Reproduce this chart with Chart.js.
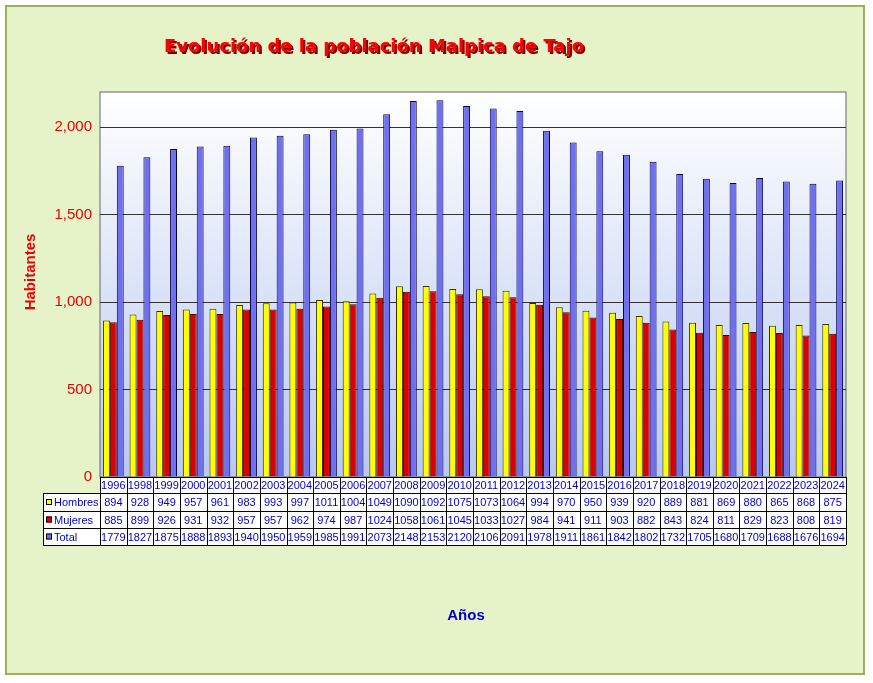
<!DOCTYPE html><html><head><meta charset="utf-8">
<script src="https://cdn.jsdelivr.net/npm/chart.js@4.4.0/dist/chart.umd.min.js"></script>
<style>html,body{margin:0;padding:0;background:#fff}#w{width:873px;height:683px;position:relative}</style></head><body><div id="w"><canvas id="c" width="873" height="683"></canvas></div>
<script>
const years=['1996','1998','1999','2000','2001','2002','2003','2004','2005','2006','2007','2008','2009','2010','2011','2012','2013','2014','2015','2016','2017','2018','2019','2020','2021','2022','2023','2024'];
const hombres=[894,928,949,957,961,983,993,997,1011,1004,1049,1090,1092,1075,1073,1064,994,970,950,939,920,889,881,869,880,865,868,875];
const mujeres=[885,899,926,931,932,957,957,962,974,987,1024,1058,1061,1045,1033,1027,984,941,911,903,882,843,824,811,829,823,808,819];
const total=[1779,1827,1875,1888,1893,1940,1950,1959,1985,1991,2073,2148,2153,2120,2106,2091,1978,1911,1861,1842,1802,1732,1705,1680,1709,1688,1676,1694];
const yTicks=[0,500,1000,1500,2000];
const seriesNames=['Hombres','Mujeres','Total'];
const colors=['#ffff00','#dd0000','#7070ee'];
const borders=['#333300','#440000','#000044'];
const deco={id:'deco',
beforeDraw(ch){const c=ch.ctx,a=ch.chartArea;c.save();
c.fillStyle='#fff';c.fillRect(0,0,873,683);
c.fillStyle='#e6f2c8';c.fillRect(6,6,858,668);
c.strokeStyle='#9ab060';c.lineWidth=2;c.strokeRect(6,6,858,668);
const g=c.createLinearGradient(0,a.top,0,a.bottom);g.addColorStop(0,'#ffffff');g.addColorStop(1,'#b8c8f0');
c.fillStyle=g;c.fillRect(a.left,a.top,a.right-a.left,a.bottom-a.top);
c.strokeStyle='#666';c.lineWidth=1;c.strokeRect(a.left,a.top,a.right-a.left,a.bottom-a.top);
c.restore();},
afterDraw(ch){const c=ch.ctx,a=ch.chartArea,x=ch.scales.x;c.save();
const w=(a.right-a.left)/years.length;
const rows=[a.bottom,a.bottom+16,a.bottom+34,a.bottom+51,a.bottom+68];
c.fillStyle='#fff';c.fillRect(a.left,rows[0],a.right-a.left,rows[4]-rows[0]);
c.fillRect(43,rows[1],a.left-43,rows[4]-rows[1]);
c.strokeStyle='#000';c.lineWidth=1;
for(let r=0;r<5;r++){c.beginPath();c.moveTo(r==0?a.left:43,rows[r]+.5);c.lineTo(a.right,rows[r]+.5);c.stroke();}
for(let i=0;i<=years.length;i++){const xx=Math.round(a.left+i*w)+.5;c.beginPath();c.moveTo(xx,rows[0]);c.lineTo(xx,rows[4]);c.stroke();}
c.beginPath();c.moveTo(43.5,rows[1]);c.lineTo(43.5,rows[4]);c.stroke();
c.font='11px Arial, Liberation Sans';c.fillStyle='#0000cc';c.textAlign='center';c.textBaseline='middle';
const data=[hombres,mujeres,total];
years.forEach((y,i)=>{const cx=x.getPixelForValue(i);c.fillText(y,cx,(rows[0]+rows[1])/2+1);
data.forEach((d,r)=>c.fillText(String(d[i]),cx,(rows[r+1]+rows[r+2])/2+1));});
c.textAlign='left';
seriesNames.forEach((n,r)=>{const cy=(rows[r+1]+rows[r+2])/2;c.fillStyle=colors[r];c.fillRect(46,cy-3,6,6);c.strokeStyle='#000';c.strokeRect(46.5,cy-2.5,5,5);c.fillStyle='#0000cc';c.fillText(n,54,cy+1);});
c.font='bold 18px Verdana, DejaVu Sans';c.textAlign='left';
const t='Evolución de la población Malpica de Tajo';
const sx=420/c.measureText(t).width;
c.translate(164,47);c.scale(sx,1);
c.fillStyle='#700';c.fillText(t,2,2);
c.fillStyle='#ff0000';c.fillText(t,0,0);
c.setTransform(1,0,0,1,0,0);
c.font='bold 15px Arial, Liberation Sans';c.fillStyle='#0000cc';c.textAlign='center';c.fillText('Años',466,616);
c.translate(31,272);c.rotate(-Math.PI/2);c.fillStyle='#ee0000';c.fillText('Habitantes',0,0);
c.restore();}};
new Chart(document.getElementById('c'),{type:'bar',
data:{labels:years,datasets:[hombres,mujeres,total].map((d,i)=>({label:seriesNames[i],data:d,backgroundColor:colors[i],borderColor:borders[i],borderWidth:1,categoryPercentage:0.78,barPercentage:1}))},
options:{responsive:false,animation:false,devicePixelRatio:1,
layout:{padding:{left:0,top:92,right:27,bottom:206}},
plugins:{legend:{display:false},tooltip:{enabled:false},title:{display:false}},
scales:{x:{ticks:{display:false},grid:{display:false},border:{display:false},afterFit(s){s.height=0;}},
y:{min:0,max:2200,afterBuildTicks(s){s.ticks=yTicks.map(v=>({value:v}));},
ticks:{color:'#ee0000',font:{size:15,family:'Arial, Liberation Sans'},padding:8},
grid:{color:'#333',drawTicks:false},border:{display:false},afterFit(s){s.width=100;}}}},
plugins:[deco]});
</script></body></html>
